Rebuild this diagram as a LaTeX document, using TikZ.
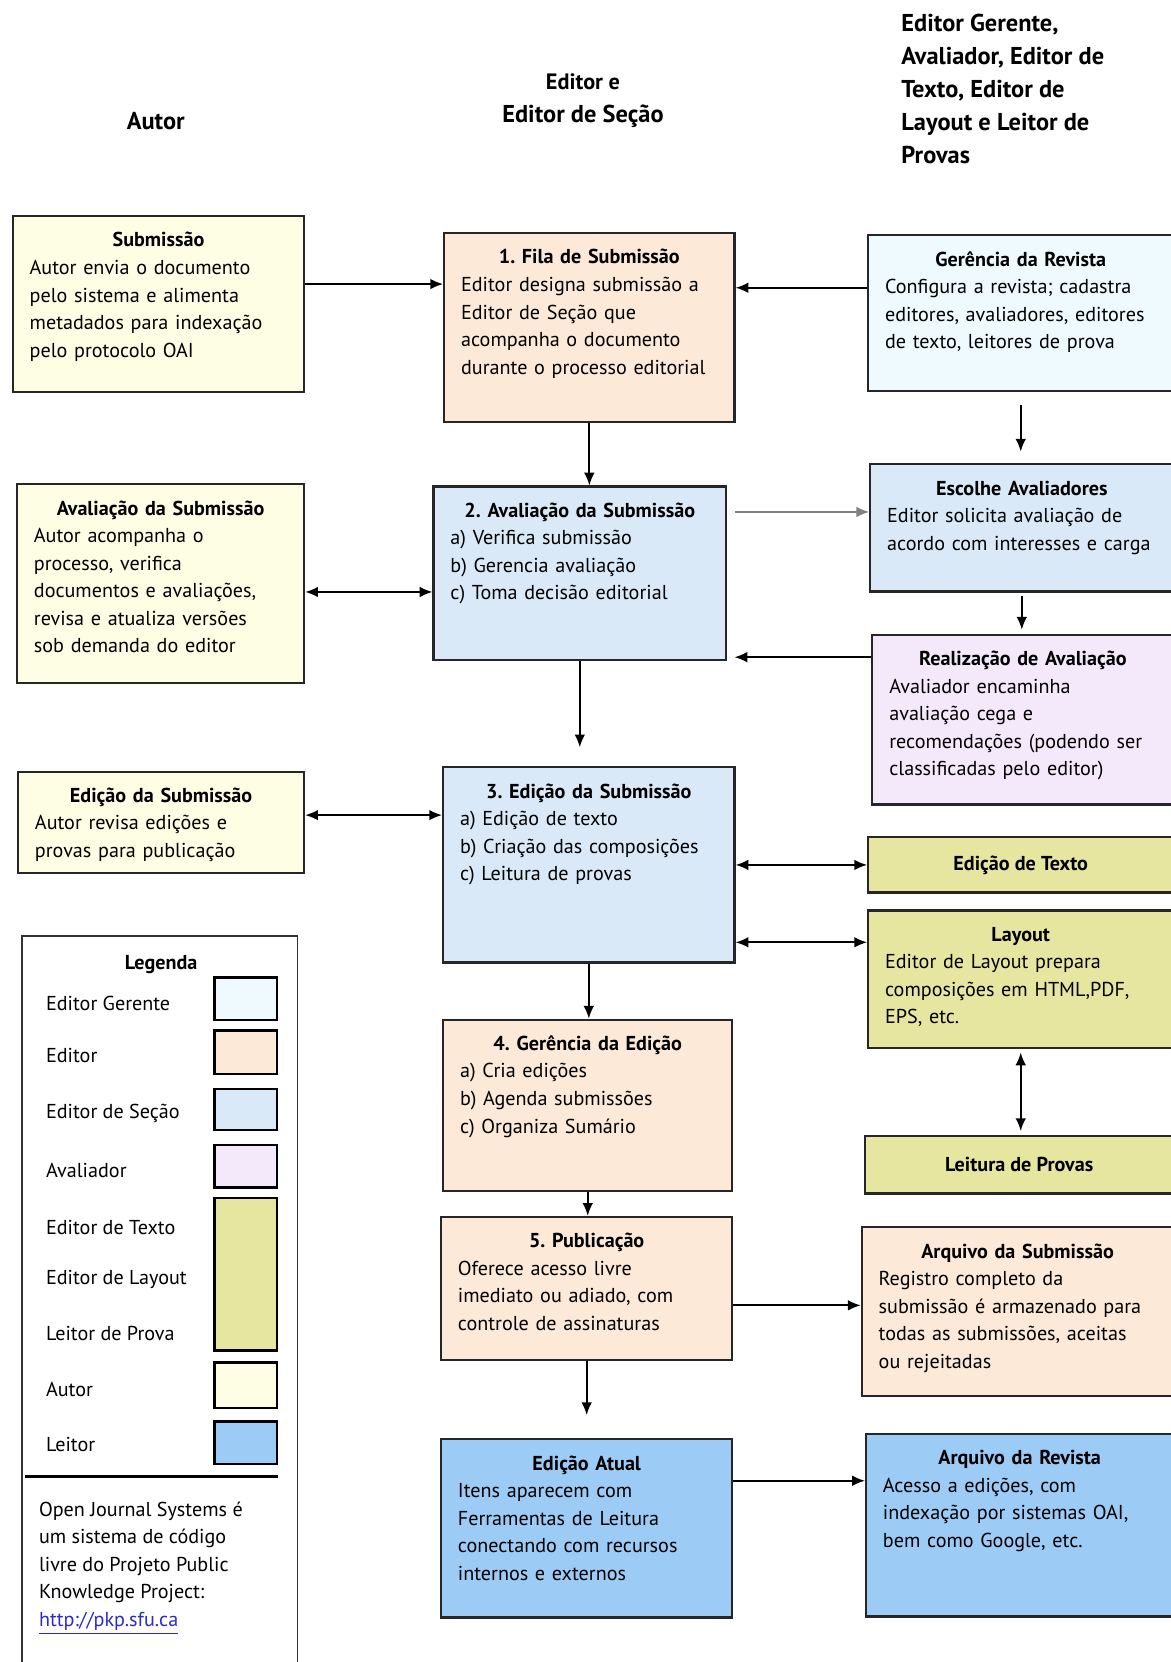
\documentclass[tikz,border=0pt]{standalone}
\usepackage{fontspec}
\setmainfont{PT Sans}
\usepackage{tikz}
\usetikzlibrary{positioning,arrows.meta}
\frenchspacing

\definecolor{gerente}{HTML}{EFFAFE}
\definecolor{editor}{HTML}{FCE9D8}
\definecolor{secao}{HTML}{DAE9F8}
\definecolor{avaliador}{HTML}{F4E9FA}
\definecolor{texto}{HTML}{E7E6A0}
\definecolor{autor}{HTML}{FEFEE5}
\definecolor{leitor}{HTML}{9CCBF6}
\definecolor{linkblue}{HTML}{2B2BC8}

\newcommand{\boxttl}[1]{\makebox[\linewidth]{\bfseries #1}\\}

\begin{document}
\begin{tikzpicture}[x=0.5pt, y=-0.5pt, line width=0.8pt, >={Latex[length=6pt,width=5pt]},
  stage/.style 2 args={draw=black!85, line width=1pt, anchor=north west, inner xsep=8pt, inner ysep=5pt,
    text width=#1pt-16pt, text height=9.5pt, text depth=#2pt-19.5pt, align=left,
    font=\fontsize{9.5}{13}\selectfont},
  slim/.style 2 args={draw=black!85, line width=1pt, anchor=north west, minimum width=#1pt, minimum height=#2pt,
    font=\fontsize{9.5}{13}\selectfont\bfseries},
  head/.style={font=\fontsize{11.5}{15.5}\selectfont\bfseries},
  swatch/.style={draw, line width=1.2pt, anchor=north west, minimum width=29.5pt, inner sep=0pt},
  legtext/.style={anchor=west, font=\fontsize{9.5}{12}\selectfont}]

\fill [white] (0,0) rectangle (1104,1568);
\useasboundingbox (0,0) rectangle (1104,1568);

% column heads
\node (autorhead) [head] at (147,114) {Autor};
\node (edhead) [head, align=center] at (550,95) {{\fontsize{10.5}{12}\selectfont Editor e}\\Editor de Seção};
\node (outrohead) [head, align=left, anchor=north west] at (843,6) {Editor Gerente,\\Avaliador, Editor de\\Texto, Editor de\\Layout e Leitor de\\Provas};

% autor
\node (sub) [stage={137.5}{83}, fill=autor] at (11,203) {\boxttl{Submissão}Autor envia o documento\\pelo sistema e alimenta\\metadados para indexação\\pelo protocolo OAI};
\node (avautor) [stage={135.5}{93.5}, fill=autor] at (15,456) {\boxttl{Avaliação da Submissão}Autor acompanha o\\processo, verifica\\documentos e avaliações,\\revisa e atualiza versões\\sob demanda do editor};
\node (edautor) [stage={135}{48}, fill=autor] at (16,727) {\boxttl{Edição da Submissão}Autor revisa edições e\\provas para publicação};

% editor e editor de secao
\node (fila) [stage={137}{89}, fill=editor] at (418,219) {\boxttl{1. Fila de Submissão}Editor designa submissão a\\Editor de Seção que\\acompanha o documento\\durante o processo editorial};
\node (aval) [stage={138}{82}, fill=secao] at (408,458) {\boxttl{2. Avaliação da Submissão}a) Verifica submissão\\b) Gerencia avaliação\\c) Toma decisão editorial};
\node (edicao) [stage={137.5}{92}, fill=secao] at (417,723) {\boxttl{3. Edição da Submissão}a) Edição de texto\\b) Criação das composições\\c) Leitura de provas};
\node (gered) [stage={136.5}{81}, fill=editor] at (417,961) {\boxttl{4. Gerência da Edição}a) Cria edições\\b) Agenda submissões\\c) Organiza Sumário};
\node (pub) [stage={137.5}{67.5}, fill=editor] at (415,1147) {\boxttl{5. Publicação}Oferece acesso livre\\imediato ou adiado, com\\controle de assinaturas};
\node (atual) [stage={137.5}{84}, fill=leitor] at (415,1357) {\boxttl{Edição Atual}Itens aparecem com\\Ferramentas de Leitura\\conectando com recursos\\internos e externos};

% outros papeis
\node (gerrev) [stage={144}{73.5}, fill=gerente] at (818,221) {\boxttl{Gerência da Revista}Configura a revista; cadastra\\editores, avaliadores, editores\\de texto, leitores de prova};
\node (escolhe) [stage={143}{60}, fill=secao] at (820,437) {\boxttl{Escolhe Avaliadores}Editor solicita avaliação de\\acordo com interesses e carga};
\node (realiz) [stage={142}{80}, fill=avaliador] at (822,598) {\boxttl{Realização de Avaliação}Avaliador encaminha\\avaliação cega e\\recomendações (podendo ser\\classificadas pelo editor)};
\node (edtexto) [slim={144}{26}, fill=texto] at (818,789) {Edição de Texto};
\node (layout) [stage={144}{65}, fill=texto] at (818,858) {\boxttl{Layout}Editor de Layout prepara\\composições em HTML,PDF,\\EPS, etc.};
\node (leitura) [slim={145.5}{27}, fill=texto] at (815,1071) {Leitura de Provas};
\node (arqsub) [stage={147}{79.5}, fill=editor] at (812,1157) {\boxttl{Arquivo da Submissão}Registro completo da\\submissão é armazenado para\\todas as submissões, aceitas\\ou rejeitadas};
\node (arqrev) [stage={145}{86}, fill=leitor] at (816,1352) {\boxttl{Arquivo da Revista}Acesso a edições, com\\indexação por sistemas OAI,\\bem como Google, etc.};

% fluxo
\draw [->] ([yshift=9.5pt]sub.east) -- ([yshift=9.5pt]sub.east -| fila.west);
\draw [->] ([yshift=12pt]gerrev.west) -- ([yshift=12pt]gerrev.west -| fila.east);
\draw [->] (fila.south) -- (fila.south |- aval.north);
\draw [->, shorten <=6pt, shorten >=5.5pt] (gerrev.south) -- (gerrev.south |- escolhe.north);
\draw [->, gray, shorten <=3.5pt] ([yshift=29pt]aval.east) -- ([yshift=29pt]aval.east -| escolhe.west);
\draw [->, shorten <=1.5pt, shorten >=2pt] (escolhe.south) -- (escolhe.south |- realiz.north);
\draw [->, shorten >=3.5pt] ([yshift=29.5pt]realiz.west) -- ([yshift=29.5pt]realiz.west -| aval.east);
\draw [<->] ([yshift=-4pt]avautor.east) -- ([yshift=-4pt]avautor.east -| aval.west);
\draw [->, shorten >=9pt] (aval.south) -- (aval.south |- edicao.north);
\draw [<->] ([yshift=3.5pt]edautor.east) -- ([yshift=3.5pt]edautor.east -| edicao.west);
\draw [<->] (edicao.east) -- (edicao.east -| edtexto.west);
\draw [<->] ([yshift=17.5pt]layout.west) -- ([yshift=17.5pt]layout.west -| edicao.east);
\draw [<->, shorten <=1.5pt, shorten >=2pt] (layout.south) -- (layout.south |- leitura.north);
\draw [->] (edicao.south) -- (edicao.south |- gered.north);
\draw [->] (gered.south) -- (gered.south |- pub.north);
\draw [->] ([yshift=-8pt]pub.east) -- ([yshift=-8pt]pub.east -| arqsub.west);
\draw [->, shorten >=11pt] (pub.south) -- (pub.south |- atual.north);
\draw [->] ([yshift=22.5pt]atual.east) -- ([yshift=22.5pt]atual.east -| arqrev.west);

% legenda
\node (legend) [draw=black!80, line width=0.8pt, anchor=north west, minimum width=130pt, minimum height=360pt] at (20,882) {};
\node (legtitle) [font=\fontsize{9.5}{12}\selectfont\bfseries] at (152,910) {Legenda};
\node (lgerente) [legtext] at (36,947) {Editor Gerente};
\node (sgerente) [swatch, minimum height=20pt, fill=gerente] at (201,921) {};
\node (leditor) [legtext] at (36,996) {Editor};
\node (seditor) [swatch, minimum height=20.5pt, fill=editor] at (201,971) {};
\node (lsecao) [legtext] at (36,1050) {Editor de Seção};
\node (ssecao) [swatch, minimum height=19.5pt, fill=secao] at (201,1026) {};
\node (lavaliador) [legtext] at (36,1104) {Avaliador};
\node (savaliador) [swatch, minimum height=20pt, fill=avaliador] at (201,1079) {};
\node (ltexto) [legtext] at (36,1158) {Editor de Texto};
\node (llayout) [legtext] at (36,1207) {Editor de Layout};
\node (lprova) [legtext] at (36,1258) {Leitor de Prova};
\node (stexto) [swatch, minimum height=72pt, fill=texto] at (201,1129) {};
\node (lautor) [legtext] at (36,1311) {Autor};
\node (sautor) [swatch, minimum height=21.5pt, fill=autor] at (201,1284) {};
\node (lleitor) [legtext] at (36,1363) {Leitor};
\node (sleitor) [swatch, minimum height=20pt, fill=leitor] at (201,1340) {};
\draw [line width=1.6pt] (24,1393) -- (262,1393);
\node (credit) [anchor=north west, align=left, inner sep=0pt, font=\fontsize{9.5}{13}\selectfont] at (36,1416) {Open Journal Systems é\\um sistema de código\\livre do Projeto Public\\Knowledge Project:\\\textcolor{linkblue}{\underline{http://pkp.sfu.ca}}};
\end{tikzpicture}
\end{document}
